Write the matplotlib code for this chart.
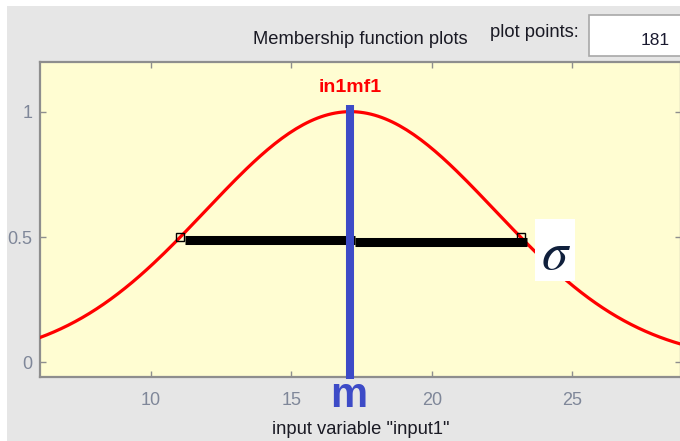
import matplotlib
matplotlib.use("Agg")
import numpy as np
import matplotlib.pyplot as plt
from matplotlib import font_manager
from matplotlib.patches import Rectangle

# Gaussian membership function (gaussmf: [sigma, c])
mf_name = "in1mf1"
mf_sigma = 5.14
mf_center = 17.1
plot_points = 181
x_range = [6.04, 28.86]
y_range = [-0.056, 1.198]

x_ticks = [10, 15, 20, 25]
x_tick_labels = ["10", "15", "20", "25"]
y_ticks = [0, 0.5, 1]
y_tick_labels = ["0", "0.5", "1"]

# hand-drawn spread bar across the curve (two strokes)
bar_x = [11.22, 17.27, 23.39]
bar_y = [0.489, 0.481]
half_points_x = [mf_center - mf_sigma * np.sqrt(2 * np.log(2)),
                 mf_center + mf_sigma * np.sqrt(2 * np.log(2))]
half_points_y = [0.5, 0.5]

W, H = 680, 441
installed = {f.name for f in font_manager.fontManager.ttflist}
ui_font = "Liberation Sans Narrow" if "Liberation Sans Narrow" in installed else "Liberation Sans"
ui_size = 15 if ui_font == "Liberation Sans Narrow" else 13.2
plt.rcParams["font.family"] = ["Liberation Sans", "DejaVu Sans"]
plt.rcParams["mathtext.fontset"] = "stix"


def fx(x):
    return x / W


def fy(y):
    return 1 - y / H


fig = plt.figure(figsize=(W / 100, H / 100), dpi=100, facecolor="#e6e6e6")

ax = fig.add_axes([fx(39.5), fy(376.5), fx(681) - fx(39.5), fy(62) - fy(376.5)])
ax.set_facecolor("#fffdd2")
ax.set_xlim(x_range)
ax.set_ylim(y_range)
for s in ax.spines.values():
    s.set_color("#8e8e8e")
    s.set_linewidth(1.6)

ax.set_xticks(x_ticks)
ax.set_xticklabels(x_tick_labels)
ax.set_yticks(y_ticks)
ax.set_yticklabels(y_tick_labels)
ax.tick_params(direction="in", length=4, width=1, color="#8e8e8e",
               top=True, right=True, labelcolor="#7f8799", labelsize=13)
ax.tick_params(axis="x", pad=11)
ax.tick_params(axis="y", pad=5)

# membership curve
xs = np.linspace(x_range[0], x_range[1], plot_points)
ys = np.exp(-((xs - mf_center) ** 2) / (2 * mf_sigma ** 2))
ax.plot(xs, ys, color="red", lw=2.3, zorder=3)

# centre line
ax.plot([mf_center, mf_center], [-0.064, 1.025], color="#3d4bc7", lw=5.8,
        solid_capstyle="butt", zorder=5, clip_on=False)

# spread bar
ax.plot(bar_x[:2], [bar_y[0]] * 2, color="black", lw=6.5,
        solid_capstyle="butt", zorder=4)
ax.plot(bar_x[1:], [bar_y[1]] * 2, color="black", lw=6.5,
        solid_capstyle="butt", zorder=4)
ax.plot(half_points_x, half_points_y, ls="none", marker="s", ms=6,
        mfc="none", mec="black", mew=1.0, zorder=6)

ax.text(mf_center, 1.08, mf_name, color="red", fontweight="bold",
        family=[ui_font, "DejaVu Sans"], fontsize=14,
        ha="center", va="baseline")

ax.text(mf_center - 0.05, -0.0955, "m", transform=ax.get_xaxis_transform(),
        color="#3d4bc7", fontweight="bold", family=[ui_font, "DejaVu Sans"],
        fontsize=30, ha="center", va="baseline", clip_on=False)

ax.set_title("Membership function plots", y=(376.5 - 44) / 314.5, pad=0,
             family=[ui_font, "DejaVu Sans"], fontsize=ui_size, color="#1a1a24")
ax.set_xlabel('input variable "input1"', family=[ui_font, "DejaVu Sans"],
              fontsize=ui_size, color="#1a1a24", va="baseline")
ax.xaxis.set_label_coords(0.5, (376.5 - 434) / 314.5)

# sigma tag
fig.add_artist(Rectangle((fx(535), fy(281)), fx(40), 62 / H,
                         transform=fig.transFigure, fc="white", ec="none", zorder=20))
fig.text(fx(556), fy(269), r"$\sigma$", fontsize=38, color="#10203c",
         ha="center", va="baseline", zorder=21)

# plot points field
fig.add_artist(Rectangle((fx(588.5), fy(55.5)), fx(95), 40 / H,
                         transform=fig.transFigure, fc="white", ec="#a8a8a8",
                         lw=1.2, zorder=20))
fig.text(fx(490), fy(37), "plot points:", family=[ui_font, "DejaVu Sans"],
         fontsize=ui_size, color="#1a1a24", ha="left", va="baseline", zorder=21)
fig.text(fx(670), fy(45), str(plot_points), family=["Liberation Sans", "DejaVu Sans"],
         fontsize=12.5, color="#1a1a30", ha="right", va="baseline", zorder=21)

# white window margins
fig.add_artist(Rectangle((0, 0), fx(7), 1, transform=fig.transFigure,
                         fc="white", ec="none", zorder=30))
fig.add_artist(Rectangle((0, fy(6)), 1, 6 / H, transform=fig.transFigure,
                         fc="white", ec="none", zorder=30))

fig.savefig("out.png", dpi=100, facecolor=fig.get_facecolor())
